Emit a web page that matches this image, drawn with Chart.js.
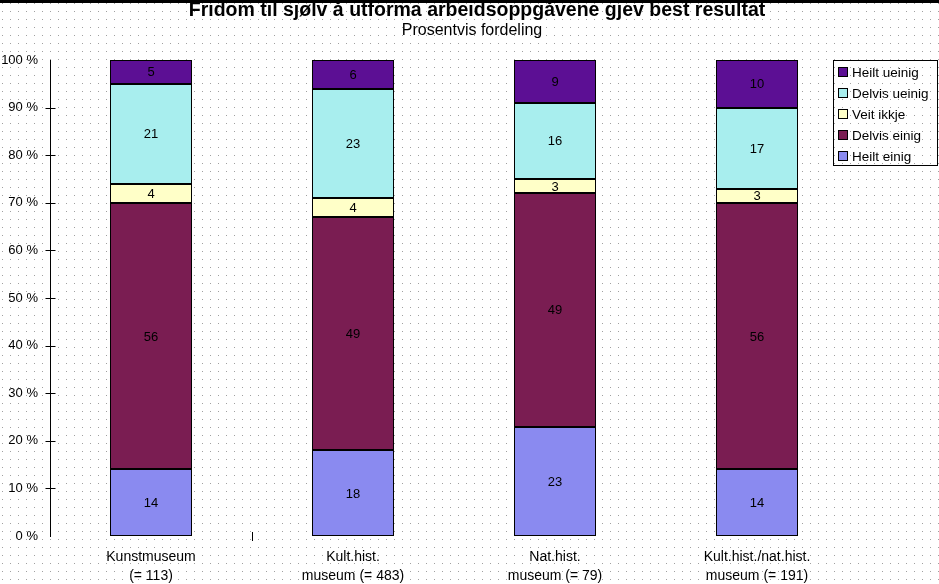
<!DOCTYPE html>
<html><head><meta charset="utf-8">
<script src="https://cdn.jsdelivr.net/npm/chart.js@4"></script>
<style>html,body{margin:0;padding:0;background:#fff}#wrap{width:939px;height:584px}canvas{display:block}</style>
</head><body><div id="wrap"><canvas id="c" width="939" height="584"></canvas></div>
<script>
const titleText = "Fridom til sjølv å utforma arbeidsoppgåvene gjev best resultat";
const subtitleText = "Prosentvis fordeling";
const categories = [["Kunstmuseum","(= 113)"],["Kult.hist.","museum (= 483)"],["Nat.hist.","museum (= 79)"],["Kult.hist./nat.hist.","museum (= 191)"]];
const seriesNames = ["Heilt einig","Delvis einig","Veit ikkje","Delvis ueinig","Heilt ueinig"];
const heiltEinig = [14,18,23,14];
const delvisEinig = [56,49,49,56];
const veitIkkje = [4,4,3,3];
const delvisUeinig = [21,23,16,17];
const heiltUeinig = [5,6,9,10];
const yTickValues = [0,10,20,30,40,50,60,70,80,90,100];
const colors = ["#8a8af0","#7a1d52","#ffffc8","#a8eeee","#5c0f94"];

const FONT = "'Liberation Sans', Arial, sans-serif";
const seriesData = [heiltEinig, delvisEinig, veitIkkje, delvisUeinig, heiltUeinig];

const bgPlugin = {
  id: 'bg',
  beforeDraw(chart) {
    const ctx = chart.ctx;
    ctx.save();
    ctx.fillStyle = '#fff';
    ctx.fillRect(0,0,chart.width,chart.height);
    ctx.fillStyle = '#a0a0a0';
    for (let y = 3; y < chart.height; y += 8) {
      for (let x = 2; x < chart.width; x += 8) ctx.fillRect(x,y,1,1);
    }
    ctx.restore();
  }
};

const outlinePlugin = {
  id: 'outline',
  afterDatasetsDraw(chart) {
    const ctx = chart.ctx;
    ctx.save();
    ctx.strokeStyle = '#000'; ctx.lineWidth = 1;
    chart.data.datasets.forEach((ds, di) => {
      chart.getDatasetMeta(di).data.forEach(bar => {
        const l = Math.round(bar.x - bar.width/2) + 0.5;
        const r = Math.round(bar.x + bar.width/2) - 0.5;
        const t = Math.round(bar.y) + 0.5;
        const b = Math.round(bar.base) - 0.5;
        ctx.strokeRect(l, t, r - l, b - t);
      });
    });
    ctx.restore();
  }
};

const decoPlugin = {
  id: 'deco',
  afterDraw(chart) {
    const ctx = chart.ctx;
    const ys = chart.scales.y, xs = chart.scales.x;
    ctx.save();
    ctx.fillStyle = '#000';
    ctx.fillRect(0,0,chart.width,3);
    ctx.textAlign = 'center'; ctx.textBaseline = 'middle';
    ctx.fillStyle = '#000';
    ctx.font = "bold 19.5px " + FONT;
    ctx.fillText(titleText, 477, 11);
    ctx.font = "16px " + FONT;
    ctx.fillText(subtitleText, 472, 31);
    ctx.strokeStyle = '#000'; ctx.lineWidth = 1;
    const ax = Math.round(chart.chartArea.left) + 0.5;
    yTickValues.forEach(v => {
      if (v === 0 || v === 100) return;
      const y = Math.round(ys.getPixelForValue(v)) + 0.5;
      ctx.beginPath(); ctx.moveTo(ax-5,y); ctx.lineTo(ax+5,y); ctx.stroke();
    });
    const sx = Math.round((xs.getPixelForValue(0)+xs.getPixelForValue(1))/2)+0.5;
    const by = ys.getPixelForValue(0);
    ctx.beginPath(); ctx.moveTo(sx,by-4); ctx.lineTo(sx,by+5); ctx.stroke();
    ctx.font = "13px " + FONT;
    ctx.textAlign = 'center'; ctx.textBaseline = 'middle';
    chart.data.datasets.forEach((ds, di) => {
      const meta = chart.getDatasetMeta(di);
      meta.data.forEach((bar, i) => {
        const mid = (bar.y + bar.base) / 2;
        ctx.fillText(String(ds.data[i]), bar.x, mid + 1);
      });
    });
    const lx = 833, ly = 60, lw = 104, lh = 105;
    ctx.strokeRect(lx+0.5, ly+0.5, lw, lh);
    ctx.font = "13.5px " + FONT;
    ctx.textAlign = 'left';
    for (let k = 0; k < 5; k++) {
      const si = 4 - k;
      const cy = 72 + k*21;
      ctx.fillStyle = colors[si];
      ctx.fillRect(838, cy-5, 10, 10);
      ctx.strokeStyle = '#000';
      ctx.strokeRect(838.5, cy-4.5, 9, 9);
      ctx.fillStyle = '#000';
      ctx.fillText(seriesNames[si], 852, cy+1);
    }
    ctx.restore();
  }
};

new Chart(document.getElementById('c'), {
  type: 'bar',
  data: {
    labels: categories,
    datasets: seriesNames.map((n, i) => ({
      label: n,
      data: seriesData[i],
      backgroundColor: colors[i],
      borderWidth: 0,
      categoryPercentage: 1,
      barPercentage: 0.406
    }))
  },
  options: {
    responsive: false,
    animation: false,
    devicePixelRatio: 1,
    layout: { padding: { top: 60, right: 81, bottom: 0, left: 0 } },
    plugins: { legend: { display: false }, tooltip: { enabled: false }, title: { display: false } },
    scales: {
      x: {
        stacked: true,
        grid: { display: false },
        border: { display: false },
        ticks: { color: '#000', font: { family: FONT, size: 14, lineHeight: 1.4 }, padding: 3, maxRotation: 0, autoSkip: false },
        afterFit(s) { s.height = 48; }
      },
      y: {
        stacked: true,
        min: 0, max: 100,
        afterBuildTicks(s) { s.ticks = yTickValues.map(v => ({ value: v })); },
        grid: { display: false },
        border: { display: true, color: '#000', width: 1 },
        ticks: { color: '#000', font: { family: FONT, size: 13 }, padding: 4, callback: v => v + ' %' },
        afterFit(s) { s.width = 50; }
      }
    }
  },
  plugins: [bgPlugin, outlinePlugin, decoPlugin]
});
</script>
</body></html>
